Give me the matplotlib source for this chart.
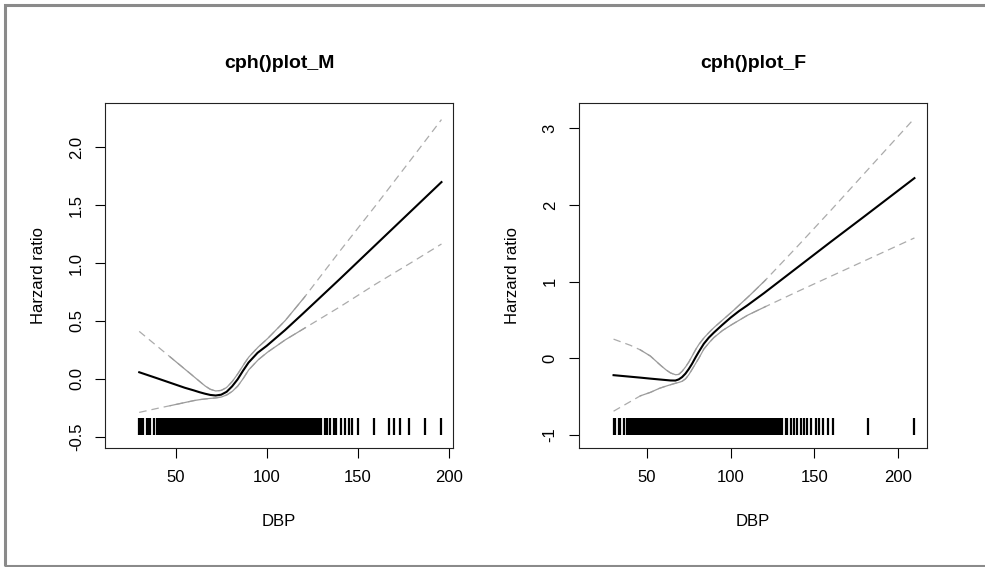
import matplotlib
matplotlib.use("Agg")
import matplotlib.pyplot as plt
import numpy as np
from matplotlib.patches import Rectangle

plt.rcParams['font.family'] = ['Liberation Sans', 'DejaVu Sans']
plt.rcParams['axes.unicode_minus'] = False

# --- male panel ---
m_dbp = [30, 40, 50, 55, 60, 63, 66, 69, 72, 75, 78, 81, 84, 87, 90, 95, 100,
         110, 120, 140, 160, 180, 196]
m_fit = [0.057, 0.004, -0.05, -0.077, -0.10, -0.115, -0.128, -0.139, -0.144, -0.137,
         -0.112, -0.065, -0.005, 0.07, 0.14, 0.225, 0.285, 0.42, 0.565, 0.86, 1.16,
         1.46, 1.70]
m_upper = [0.41, 0.28, 0.15, 0.085, 0.02, -0.02, -0.06, -0.09, -0.105, -0.10,
           -0.075, -0.025, 0.04, 0.115, 0.185, 0.27, 0.34, 0.50, 0.69, 1.10, 1.50,
           1.91, 2.24]
m_lower = [-0.29, -0.255, -0.222, -0.205, -0.188, -0.18, -0.174, -0.169, -0.165,
           -0.158, -0.14, -0.11, -0.065, 0.0, 0.075, 0.16, 0.225, 0.335, 0.43, 0.62,
           0.82, 1.01, 1.165]
m_rug = [30, 31, 32, 34, 35, 36, 38, 40,
         41, 42, 43, 44, 45, 46, 47, 48, 49, 50, 51, 52, 53, 54, 55, 56, 57, 58, 59, 60,
         61, 62, 63, 64, 65, 66, 67, 68, 69, 70, 71, 72, 73, 74, 75, 76, 77, 78, 79, 80,
         81, 82, 83, 84, 85, 86, 87, 88, 89, 90, 91, 92, 93, 94, 95, 96, 97, 98, 99, 100,
         101, 102, 103, 104, 105, 106, 107, 108, 109, 110, 111, 112, 113, 114, 115, 116,
         117, 118, 119, 120, 121, 122, 123, 124, 125, 126, 127, 128, 129, 130,
         132, 133, 135, 137, 138, 141, 143, 145, 147, 150, 159, 167, 170, 173, 178, 187, 196]
m_yticks = [-0.5, 0.0, 0.5, 1.0, 1.5, 2.0]
m_yticklabels = ["-0.5", "0.0", "0.5", "1.0", "1.5", "2.0"]

# --- female panel ---
f_dbp = [30, 40, 46, 52, 57, 61, 64, 67, 69, 71, 73, 75, 77, 79, 81, 84, 87, 90,
         95, 100, 105, 110, 120, 140, 160, 180, 210]
f_fit = [-0.22, -0.24, -0.252, -0.265, -0.275, -0.283, -0.289, -0.29, -0.275, -0.245,
         -0.2, -0.14, -0.07, 0.01, 0.085, 0.19, 0.27, 0.335, 0.435, 0.53, 0.615, 0.69,
         0.85, 1.185, 1.52, 1.85, 2.35]
f_upper = [0.25, 0.17, 0.11, 0.03, -0.07, -0.145, -0.19, -0.215, -0.21, -0.17,
           -0.115, -0.05, 0.03, 0.11, 0.18, 0.265, 0.335, 0.40, 0.495, 0.59, 0.69,
           0.79, 1.00, 1.46, 1.93, 2.41, 3.13]
f_lower = [-0.69, -0.565, -0.49, -0.445, -0.395, -0.365, -0.345, -0.325, -0.315, -0.30,
           -0.27, -0.215, -0.145, -0.07, 0.0, 0.12, 0.20, 0.27, 0.36, 0.43, 0.495, 0.56,
           0.665, 0.87, 1.07, 1.27, 1.57]
f_rug = [30, 31, 33, 34, 36, 38,
         39, 40, 41, 42, 43, 44, 45, 46, 47, 48, 49, 50, 51, 52, 53, 54, 55, 56, 57, 58,
         59, 60, 61, 62, 63, 64, 65, 66, 67, 68, 69, 70, 71, 72, 73, 74, 75, 76, 77, 78,
         79, 80, 81, 82, 83, 84, 85, 86, 87, 88, 89, 90, 91, 92, 93, 94, 95, 96, 97, 98,
         99, 100, 101, 102, 103, 104, 105, 106, 107, 108, 109, 110, 111, 112, 113, 114,
         115, 116, 117, 118, 119, 120, 121, 122, 123, 124, 125, 126, 127, 128, 129, 130, 131,
         133, 134, 136, 138, 140, 142, 144, 146, 148, 151, 153, 155, 158, 161, 182, 210]
f_yticks = [-1, 0, 1, 2, 3]
f_yticklabels = ["-1", "0", "1", "2", "3"]

xticks = [50, 100, 150, 200]


def draw_panel(ax, dbp, fit, lower, upper, rug, xlim, ylim,
               yticks, yticklabels, title, solid_lo, solid_hi):
    for band in (upper, lower):
        ax.plot(dbp, band, color="#ababab", lw=0.9, linestyle=(0, (6, 4)))
        # the part over the bulk of the data shows as a solid thin line
        xs = np.linspace(solid_lo, solid_hi, 200)
        ax.plot(xs, np.interp(xs, dbp, band), color="#9c9c9c", lw=0.9)
    ax.plot(dbp, fit, color="black", lw=1.5)

    ax.vlines(rug, 0.037, 0.087, transform=ax.get_xaxis_transform(),
              color="black", lw=1.6)

    ax.set_xlim(*xlim)
    ax.set_ylim(*ylim)
    ax.set_xticks(xticks)
    ax.set_xticklabels([str(t) for t in xticks])
    ax.set_yticks(yticks)
    ax.set_yticklabels(yticklabels, rotation=90, va="center")
    ax.tick_params(length=7.2, width=0.8, labelsize=12, pad=8, colors="black")
    ax.tick_params(axis="x", pad=9)
    for sp in ax.spines.values():
        sp.set_linewidth(0.8)
        sp.set_color("#222222")

    ax.set_title(title, fontsize=14, fontweight="bold", pad=25)
    ax.set_xlabel("DBP", fontsize=12)
    ax.xaxis.set_label_coords(0.5, -0.192)
    ax.set_ylabel("Harzard ratio", fontsize=12, va="center")
    ax.yaxis.set_label_coords(-0.19, 0.5)


fig = plt.figure(figsize=(9.85, 5.67), dpi=100)
ax_m = fig.add_axes([0.1066, 0.2104, 0.3538, 0.6085])
ax_f = fig.add_axes([0.5876, 0.2104, 0.3540, 0.6085])

draw_panel(ax_m, m_dbp, m_fit, m_lower, m_upper, m_rug,
           (11.2, 202.6), (-0.595, 2.386), m_yticks, m_yticklabels,
           "cph()plot_M", 47, 121)
draw_panel(ax_f, f_dbp, f_fit, f_lower, f_upper, f_rug,
           (9.2, 217.8), (-1.166, 3.334), f_yticks, f_yticklabels,
           "cph()plot_F", 46, 121)

# gray outer frame (right edge falls outside the picture)
fig.patches.append(Rectangle((4.7 / 985, 1 - 566 / 567), 1.2, (566 - 5.4) / 567,
                             transform=fig.transFigure, fill=False,
                             edgecolor="#8a8a8a", lw=2.2))

fig.savefig("out.png", dpi=100)
